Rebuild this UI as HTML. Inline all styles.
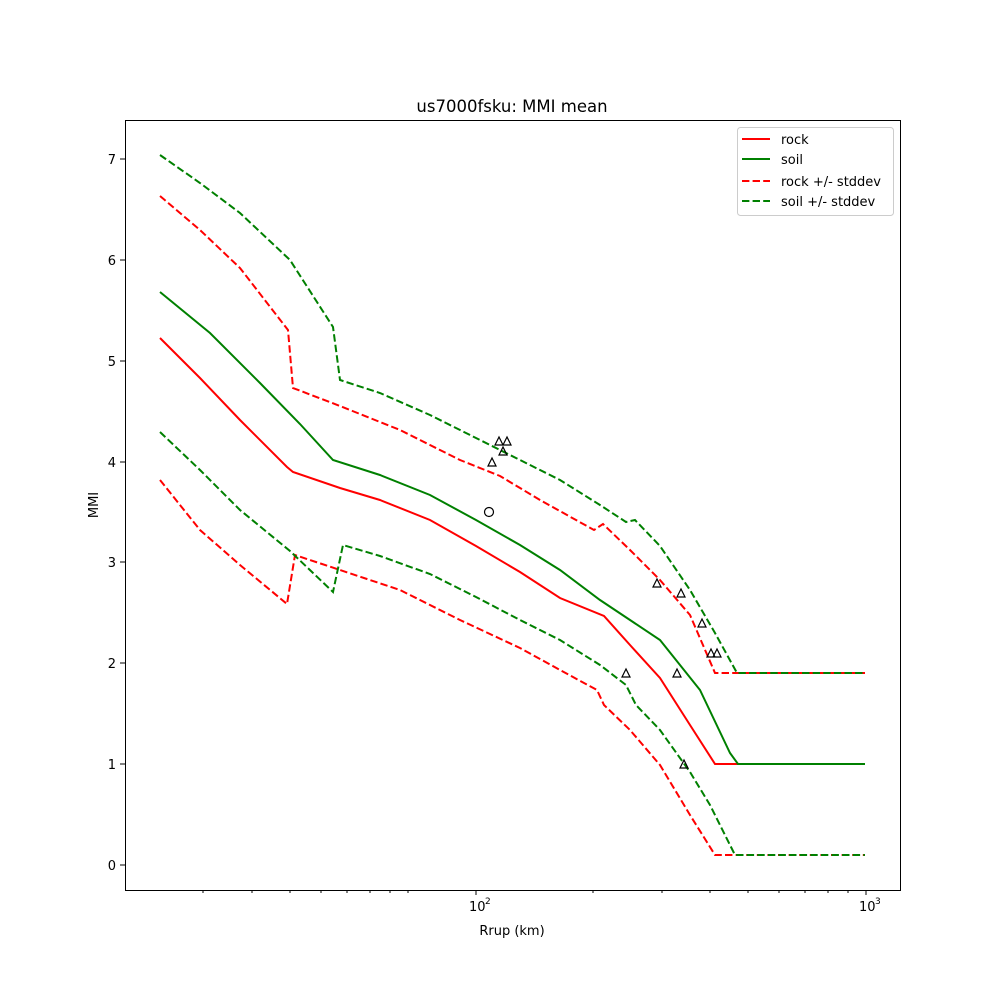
<!DOCTYPE html>
<html><head><meta charset="utf-8"><style>body{margin:0;background:#fff}</style></head><body>
<svg width="1000" height="1000" xmlns="http://www.w3.org/2000/svg" font-family="DejaVu Sans, Liberation Sans, sans-serif">
<rect width="1000" height="1000" fill="#fff"/>
<text x="512" y="112" font-size="16.5" text-anchor="middle">us7000fsku: MMI mean</text>
<g fill="none" stroke-width="2">
<polyline stroke="red" points="160,338 200,378 240,420 287,467 293,472 340,488 380,500 430,520 476,546 520,572 560,598 604,616 630,645 660,678 690,725 715,764 865,764"/>
<polyline stroke="green" points="160,292 210,333 260,383 300,424 333,460 380,475 430,495 476,520 520,545 560,570 600,600 630,620 660,640 700,690 730,753 738,764 865,764"/>
<g stroke-dasharray="7.4,3.2">
<polyline stroke="red" points="160,196 200,230 240,268 288,330 293,388 340,406 400,430 460,460 500,476 540,500 594,530 603,524 630,550 660,580 690,615 715,673 865,673"/>
<polyline stroke="red" points="160,480 200,530 240,565 287,604 295,555 340,570 400,590 460,620 520,648 560,670 597,690 604,705 630,730 660,765 690,815 715,855 865,855"/>
<polyline stroke="green" points="160,155 200,183 240,213 290,260 333,327 340,380 380,393 430,415 476,438 520,460 560,480 600,505 626,522 635,520 660,546 690,590 715,633 737,673 865,673"/>
<polyline stroke="green" points="160,432 200,470 240,510 290,551 333,592 343,545 380,556 430,574 476,597 520,620 560,640 600,665 626,685 636,705 660,730 690,772 710,805 735,855 865,855"/>
</g>
</g>
<g fill="none" stroke="#000" stroke-width="1.2">
<path d="M499,437l-4,8h8z M507,437l-4,8h8z M503,447l-4,8h8z M492,458l-4,8h8z M657,579l-4,8h8z M681,589l-4,8h8z M702,619l-4,8h8z M711,649l-4,8h8z M717,649l-4,8h8z M626,669l-4,8h8z M677,669l-4,8h8z M684,760l-4,8h8z"/>
<circle cx="489" cy="512" r="4.5"/>
</g>
<rect x="125.5" y="120.5" width="775" height="770" fill="none" stroke="#000"/>
<g stroke="#000">
<path d="M476,890v5M866,890v5"/>
<path d="M203,890v3M252,890v3M290,890v3M321,890v3M347,890v3M370,890v3M390,890v3M408,890v3M593,890v3M662,890v3M710,890v3M748,890v3M779,890v3M805,890v3M828,890v3M848,890v3"/>
<path d="M125,865h-5M125,764h-5M125,663h-5M125,562h-5M125,462h-5M125,361h-5M125,260h-5M125,159h-5"/>
</g>
<g font-size="13" text-anchor="end">
<text x="116" y="870">0</text><text x="116" y="769">1</text><text x="116" y="668">2</text><text x="116" y="567">3</text><text x="116" y="467">4</text><text x="116" y="366">5</text><text x="116" y="265">6</text><text x="116" y="164">7</text>
</g>
<text x="469" y="911" font-size="13">10</text><text x="485" y="904" font-size="9">2</text>
<text x="859" y="911" font-size="13">10</text><text x="875" y="904" font-size="9">3</text>
<text x="512" y="935" font-size="13" text-anchor="middle">Rrup (km)</text>
<text transform="translate(98,505) rotate(-90)" font-size="13" text-anchor="middle">MMI</text>
<rect x="737.5" y="127.5" width="156" height="88" rx="3" fill="#fff" stroke="#ccc"/>
<g stroke-width="2">
<line x1="742" y1="139" x2="770" y2="139" stroke="red"/>
<line x1="742" y1="159" x2="770" y2="159" stroke="green"/>
<line x1="742" y1="181" x2="770" y2="181" stroke="red" stroke-dasharray="7.4,3.2"/>
<line x1="742" y1="201" x2="770" y2="201" stroke="green" stroke-dasharray="7.4,3.2"/>
</g>
<g font-size="13">
<text x="781" y="144">rock</text><text x="781" y="164">soil</text><text x="781" y="186">rock +/- stddev</text><text x="781" y="206">soil +/- stddev</text>
</g>
</svg>
</body></html>
